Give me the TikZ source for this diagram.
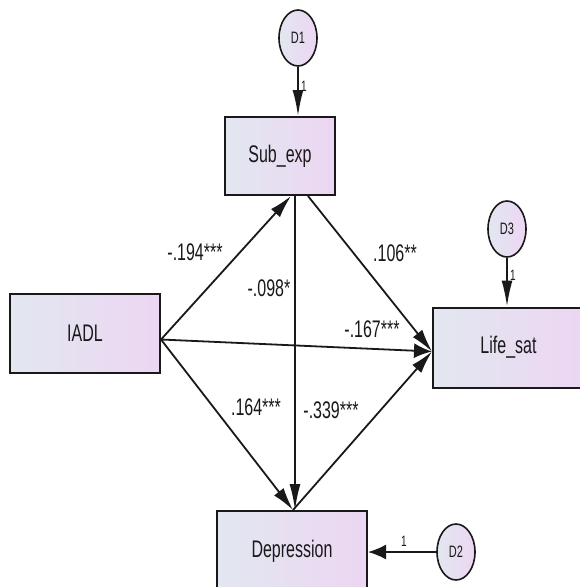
\documentclass[tikz,border=0pt]{standalone}
\usepackage{graphicx}
\usepackage{fontspec}
\setmainfont{Liberation Sans}
\usetikzlibrary{arrows.meta,calc,shapes.geometric}

% glyphs are set 1.5 times taller than wide
\newcommand{\tallt}[1]{\scalebox{1}[1.5]{#1}}

\definecolor{shadeL}{RGB}{226,231,240}
\definecolor{shadeR}{RGB}{237,214,243}
\definecolor{inkc}{RGB}{25,25,25}

\tikzset{
  varbox/.style={rectangle, draw=inkc, line width=2pt, left color=shadeL, right color=shadeR,
    inner sep=0pt, text=inkc, font=\fontsize{16}{16}\selectfont},
  errvar/.style={ellipse, draw=inkc, line width=1.6pt, left color=shadeL, right color=shadeR,
    minimum width=38pt, minimum height=56pt, inner sep=0pt, text=inkc,
    font=\fontsize{11}{11}\selectfont},
  coef/.style={text=inkc, inner sep=0pt, font=\fontsize{16}{16}\selectfont},
  onelab/.style={text=inkc, inner sep=0pt, font=\fontsize{10}{10}\selectfont},
  link/.style={draw=inkc, line width=1.8pt},
  vtip/.style={link, -{Latex[length=26pt,width=11pt]}},
  htip/.style={link, -{Latex[length=18pt,width=15pt]}},
  dtip/.style={link, -{Latex[length=23pt,width=12pt]}},
}

\begin{document}
\begin{tikzpicture}[x=1pt, y=-1pt]
  \clip (0,0) rectangle (580,587);
  \fill[white] (0,0) rectangle (580,587);

  % observed variables
  \node[varbox, minimum width=110pt, minimum height=78pt] (sub) at (280,156) {\tallt{Sub\_exp}};
  \node[varbox, minimum width=150pt, minimum height=79pt] (iadl) at (85,333.5) {\tallt{IADL}};
  \node[varbox, minimum width=151pt, minimum height=80pt] (life) at (508.5,347.5) {\tallt{Life\_sat}};
  \node[varbox, minimum width=150pt, minimum height=80pt] (dep) at (292,551) {\tallt{Depression}};

  % disturbances
  \node[errvar] (d1) at (298,38) {\tallt{D1}};
  \node[errvar] (d3) at (507,229) {\tallt{D3}};
  \node[errvar] (d2) at (456,552) {\tallt{D2}};

  % anchor points on the boxes
  \coordinate (iadlOut) at ($(iadl.east)+(0,6)$);
  \coordinate (lifeIn) at ($(life.west)+(0,4)$);
  \coordinate (subIn) at ($(sub.south)+(11,0)$);
  \coordinate (subDown) at ($(sub.south)+(15,0)$);
  \coordinate (subOut) at ($(sub.south)+(28,0)$);
  \coordinate (depTop) at ($(dep.north)+(1,0)$);

  % structural paths
  \draw[dtip] (iadlOut) -- (subIn);
  \draw[htip] (iadlOut) -- (lifeIn);
  \draw[dtip] (iadlOut) -- (depTop);
  \draw[dtip] (subOut) -- (lifeIn);
  \draw[vtip] (subDown) -- (subDown |- depTop);
  \draw[dtip] (depTop) -- (lifeIn);

  % disturbance paths
  \draw[vtip] (d1.south) -- (d1.south |- sub.north);
  \draw[vtip] (d3.south) -- (d3.south |- life.north);
  \draw[htip] (d2.west) -- (d2.west -| dep.east);

  \node[onelab] (w1) at (304,86) {\tallt{1}};
  \node[onelab] (w3) at (513,275) {\tallt{1}};
  \node[onelab] (w2) at (404,541) {\tallt{1}};

  % coefficients
  \node[coef] (c1) at (195,252) {\tallt{-.194***}};
  \node[coef] (c2) at (269,288) {\tallt{-.098*}};
  \node[coef] (c3) at (395,253) {\tallt{.106**}};
  \node[coef] (c4) at (372,329) {\tallt{-.167***}};
  \node[coef] (c5) at (256,407) {\tallt{.164***}};
  \node[coef] (c6) at (331,410) {\tallt{-.339***}};
\end{tikzpicture}
\end{document}
